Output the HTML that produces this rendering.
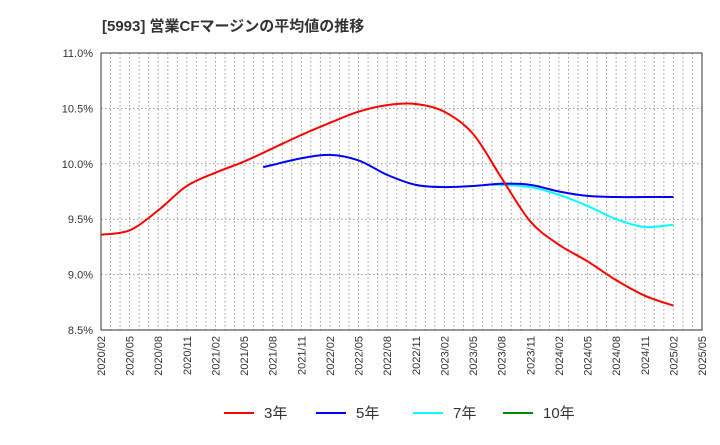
<!DOCTYPE html>
<html><head><meta charset="utf-8"><style>
body{margin:0;background:#fff;font-family:"Liberation Sans","Noto Sans CJK JP",sans-serif}
</style></head><body>
<svg id="chart" width="720" height="440" xmlns="http://www.w3.org/2000/svg" font-family="Liberation Sans, Noto Sans CJK JP, sans-serif">
<text x="102" y="31" font-size="15" font-weight="bold" fill="#333">[5993]  営業CFマージンの平均値の推移</text>
<g id="grid"></g><g id="axes"></g><g id="series"></g>
<g font-size="15" fill="#333">
<line x1="224" y1="413" x2="254" y2="413" stroke="#f00" stroke-width="2"/><text x="264" y="418">3年</text>
<line x1="316" y1="413" x2="346" y2="413" stroke="#00f" stroke-width="2"/><text x="356" y="418">5年</text>
<line x1="413" y1="413" x2="443" y2="413" stroke="#0ff" stroke-width="2"/><text x="453" y="418">7年</text>
<line x1="503" y1="413" x2="533" y2="413" stroke="#080" stroke-width="2"/><text x="543" y="418">10年</text>
</g>
</svg>
<script>
const xLabels=["2020/02","2020/05","2020/08","2020/11","2021/02","2021/05","2021/08","2021/11","2022/02","2022/05","2022/08","2022/11","2023/02","2023/05","2023/08","2023/11","2024/02","2024/05","2024/08","2024/11","2025/02","2025/05"];
const yTicks=[8.5,9.0,9.5,10.0,10.5,11.0];
// month indices from 2020/02
const red3M=[0,3,6,9,12,15,18,21,24,27,30,33,36,39,42,45,48,51,54,57,60];
const red3V=[9.36,9.40,9.58,9.80,9.92,10.02,10.14,10.26,10.37,10.47,10.53,10.54,10.47,10.27,9.87,9.48,9.27,9.12,8.95,8.81,8.72];
const blue5M=[17,18,21,24,27,30,33,36,39,42,45,48,51,54,57,60];
const blue5V=[9.97,9.99,10.05,10.08,10.03,9.90,9.81,9.79,9.80,9.82,9.81,9.75,9.71,9.70,9.70,9.70];
const cyan7M=[41,42,45,48,51,54,57,60];
const cyan7V=[9.81,9.81,9.79,9.72,9.62,9.50,9.43,9.45];
const L=101,R=702,T=53,B=330,NM=63,ymin=8.5,ymax=11;
const xs=m=>L+(R-L)*m/NM, ys=v=>B-(B-T)*(v-ymin)/(ymax-ymin);
const NS="http://www.w3.org/2000/svg";
function mk(t,a,p){const e=document.createElementNS(NS,t);for(const k in a)e.setAttribute(k,a[k]);p.appendChild(e);return e;}
const grid=document.getElementById('grid'),axes=document.getElementById('axes'),ser=document.getElementById('series');
for(let m=1;m<NM;m++){const g=mk('line',{x1:xs(m),x2:xs(m),y1:T,y2:B,stroke:'#999','stroke-dasharray':'1.5,2.5','stroke-width':1},grid);

}
yTicks.forEach(v=>{const g=mk('line',{x1:L,x2:R,y1:ys(v),y2:ys(v),stroke:'#999','stroke-dasharray':'1.5,2.5'},grid);


const t=mk('text',{x:L-8,y:ys(v)+4,'text-anchor':'end','font-size':11,fill:'#333'},axes);t.textContent=v.toFixed(1)+'%';

});
const fr=mk('rect',{x:L,y:T,width:R-L,height:B-T,fill:'none',stroke:'#333'},axes);


xLabels.forEach((s,i)=>{const x=xs(i*3);const t=mk('text',{x:x+4,y:B+6,'text-anchor':'end','font-size':11,fill:'#333',transform:`rotate(-90 ${x+4} ${B+6})`},axes);t.textContent=s;

});
function path(M,V){const p=M.map((m,i)=>[xs(m),ys(V[i])]);let d=`M${p[0][0]},${p[0][1]}`;
for(let i=0;i<p.length-1;i++){const p0=p[i-1]||p[i],p1=p[i],p2=p[i+1],p3=p[i+2]||p2;
d+=` C${p1[0]+(p2[0]-p0[0])/6},${p1[1]+(p2[1]-p0[1])/6} ${p2[0]-(p3[0]-p1[0])/6},${p2[1]-(p3[1]-p1[1])/6} ${p2[0]},${p2[1]}`;}return d;}
[[red3M,red3V,'#f00','line-3yr'],[blue5M,blue5V,'#00f','line-5yr'],[cyan7M,cyan7V,'#0ff','line-7yr']].reverse().forEach(([M,V,c,n])=>{
const e=mk('path',{d:path(M,V),fill:'none',stroke:c,'stroke-width':2},ser);

});
</script>
</body></html>
